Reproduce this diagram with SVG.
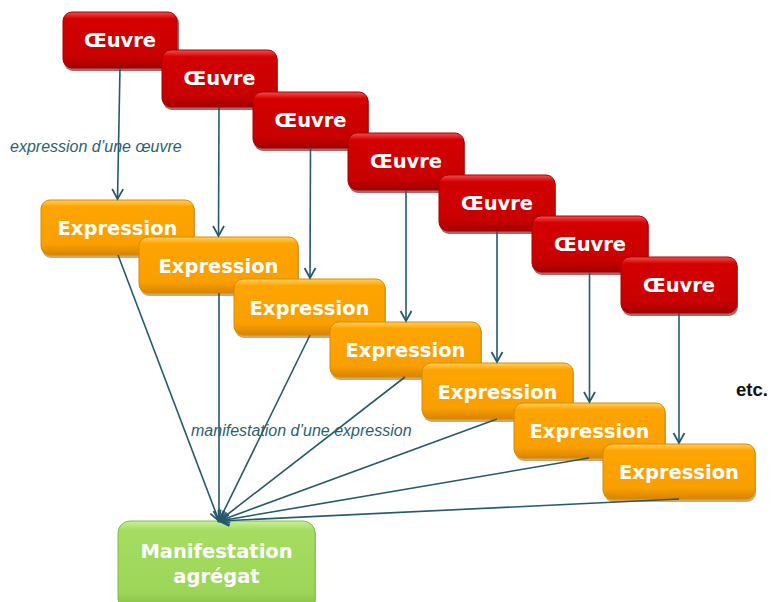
<svg xmlns="http://www.w3.org/2000/svg" width="771" height="602" viewBox="0 0 771 602">
<defs>
  <linearGradient id="gRed" x1="0" y1="0" x2="0" y2="1">
    <stop offset="0" stop-color="#f05050"/>
    <stop offset="0.12" stop-color="#d40000"/>
    <stop offset="0.8" stop-color="#c80000"/>
    <stop offset="1" stop-color="#a00000"/>
  </linearGradient>
  <linearGradient id="gOrange" x1="0" y1="0" x2="0" y2="1">
    <stop offset="0" stop-color="#ffd060"/>
    <stop offset="0.12" stop-color="#fda400"/>
    <stop offset="0.8" stop-color="#f9a000"/>
    <stop offset="1" stop-color="#d88400"/>
  </linearGradient>
  <linearGradient id="gGreen" x1="0" y1="0" x2="0" y2="1">
    <stop offset="0" stop-color="#c8f098"/>
    <stop offset="0.1" stop-color="#a6dc62"/>
    <stop offset="0.8" stop-color="#9cd658"/>
    <stop offset="1" stop-color="#80b840"/>
  </linearGradient>
  <marker id="arr" markerUnits="userSpaceOnUse" markerWidth="14" markerHeight="14" refX="11" refY="6" orient="auto" overflow="visible">
    <path d="M1,0.5 L11,6 L1,11.5" fill="none" stroke="#245a6b" stroke-width="1.8" stroke-linejoin="miter"/>
  </marker>
</defs>
<style>
  .shR { fill: #7a0000; opacity: 0.6; }
  .shO { fill: #a86000; opacity: 0.55; }
  .shG { fill: #5e8a2c; opacity: 0.5; }
  .oeuvre { fill: url(#gRed); stroke: #a80000; stroke-width: 1; }
  .expr { fill: url(#gOrange); stroke: #d88a00; stroke-width: 1; }
  .manif { fill: url(#gGreen); stroke: #84bc46; stroke-width: 1; }
  .lbl { font-family: "DejaVu Sans", "Liberation Sans", sans-serif; font-weight: bold; font-size: 19.5px; fill: #ffffff; text-anchor: middle; }
  .conn { fill: none; stroke: #245a6b; stroke-width: 1.6; }
  .note { font-family: "Liberation Sans", Arial, sans-serif; font-style: italic; font-size: 16px; fill: #2b5f70; }
  .etc { font-family: "Liberation Sans", Arial, sans-serif; font-weight: bold; font-size: 18.5px; fill: #111111; }
</style>

<g id="oeuvre1">
  <rect class="shR" x="64" y="14" width="115" height="57" rx="9"/>
  <rect class="oeuvre" x="63" y="12" width="114" height="56" rx="9"/>
  <text class="lbl" x="120" y="47">Œuvre</text>
</g>
<g id="oeuvre2">
  <rect class="shR" x="163" y="52" width="115" height="58" rx="9"/>
  <rect class="oeuvre" x="162" y="50" width="115" height="57" rx="9"/>
  <text class="lbl" x="219.5" y="85">Œuvre</text>
</g>
<g id="oeuvre3">
  <rect class="shR" x="254" y="94" width="115" height="57" rx="9"/>
  <rect class="oeuvre" x="253" y="92" width="115" height="56" rx="9"/>
  <text class="lbl" x="310.5" y="127">Œuvre</text>
</g>
<g id="oeuvre4">
  <rect class="shR" x="349" y="135" width="116" height="58" rx="9"/>
  <rect class="oeuvre" x="348" y="133" width="116" height="57" rx="9"/>
  <text class="lbl" x="406" y="168">Œuvre</text>
</g>
<g id="oeuvre5">
  <rect class="shR" x="440" y="177" width="116" height="57" rx="9"/>
  <rect class="oeuvre" x="439" y="175" width="116" height="56" rx="9"/>
  <text class="lbl" x="497" y="210">Œuvre</text>
</g>
<g id="oeuvre6">
  <rect class="shR" x="533" y="218" width="116" height="57" rx="9"/>
  <rect class="oeuvre" x="532" y="216" width="116" height="56" rx="9"/>
  <text class="lbl" x="590" y="251">Œuvre</text>
</g>
<g id="oeuvre7">
  <rect class="shR" x="622" y="259" width="116" height="57" rx="9"/>
  <rect class="oeuvre" x="621" y="257" width="116" height="56" rx="9"/>
  <text class="lbl" x="679" y="292">Œuvre</text>
</g>

<g id="expression1">
  <rect class="shO" x="42" y="202" width="153" height="56" rx="9"/>
  <rect class="expr" x="41" y="200" width="153" height="55" rx="9"/>
  <text class="lbl" x="117.5" y="235">Expression</text>
</g>
<g id="expression2">
  <rect class="shO" x="140" y="239" width="159" height="57" rx="9"/>
  <rect class="expr" x="139" y="237" width="159" height="56" rx="9"/>
  <text class="lbl" x="218.5" y="273">Expression</text>
</g>
<g id="expression3">
  <rect class="shO" x="235" y="281" width="151" height="57" rx="9"/>
  <rect class="expr" x="234" y="279" width="151" height="56" rx="9"/>
  <text class="lbl" x="309.5" y="315">Expression</text>
</g>
<g id="expression4">
  <rect class="shO" x="331" y="324" width="151" height="56" rx="9"/>
  <rect class="expr" x="330" y="322" width="151" height="55" rx="9"/>
  <text class="lbl" x="405.5" y="357">Expression</text>
</g>
<g id="expression5">
  <rect class="shO" x="423" y="365" width="151" height="57" rx="9"/>
  <rect class="expr" x="422" y="363" width="151" height="56" rx="9"/>
  <text class="lbl" x="497.5" y="399">Expression</text>
</g>
<g id="expression6">
  <rect class="shO" x="515" y="405" width="151" height="56" rx="9"/>
  <rect class="expr" x="514" y="403" width="151" height="55" rx="9"/>
  <text class="lbl" x="589.5" y="438">Expression</text>
</g>
<g id="expression7">
  <rect class="shO" x="604" y="446" width="152" height="56" rx="9"/>
  <rect class="expr" x="603" y="444" width="152" height="55" rx="9"/>
  <text class="lbl" x="679" y="479">Expression</text>
</g>

<g id="manifestation">
  <rect class="shG" x="119" y="523" width="197" height="90" rx="12"/>
  <rect class="manif" x="118" y="521" width="197" height="90" rx="12"/>
  <text class="lbl" x="216.5" y="558">Manifestation</text>
  <text class="lbl" x="216.5" y="583">agrégat</text>
</g>

<g id="connectors">
  <line class="conn" x1="120" y1="68" x2="117.5" y2="199" marker-end="url(#arr)"/>
  <line class="conn" x1="219" y1="107" x2="218.5" y2="236" marker-end="url(#arr)"/>
  <line class="conn" x1="310.5" y1="148" x2="310" y2="278" marker-end="url(#arr)"/>
  <line class="conn" x1="406" y1="190" x2="406" y2="321" marker-end="url(#arr)"/>
  <line class="conn" x1="497" y1="231" x2="497" y2="362" marker-end="url(#arr)"/>
  <line class="conn" x1="589.5" y1="272" x2="589.5" y2="402" marker-end="url(#arr)"/>
  <line class="conn" x1="679" y1="313" x2="679" y2="443" marker-end="url(#arr)"/>

  <line class="conn" x1="118" y1="255" x2="219" y2="521" marker-end="url(#arr)"/>
  <line class="conn" x1="219" y1="293" x2="219" y2="521" marker-end="url(#arr)"/>
  <line class="conn" x1="310" y1="335" x2="219" y2="521" marker-end="url(#arr)"/>
  <line class="conn" x1="405" y1="377" x2="219" y2="521" marker-end="url(#arr)"/>
  <line class="conn" x1="497" y1="419" x2="219" y2="521" marker-end="url(#arr)"/>
  <line class="conn" x1="589" y1="458" x2="219" y2="521" marker-end="url(#arr)"/>
  <line class="conn" x1="679" y1="499" x2="219" y2="521" marker-end="url(#arr)"/>
</g>

<text class="note" x="10" y="152">expression d’une œuvre</text>
<text class="note" x="191" y="436">manifestation d’une expression</text>
<text class="etc" x="736" y="396">etc.</text>
</svg>
